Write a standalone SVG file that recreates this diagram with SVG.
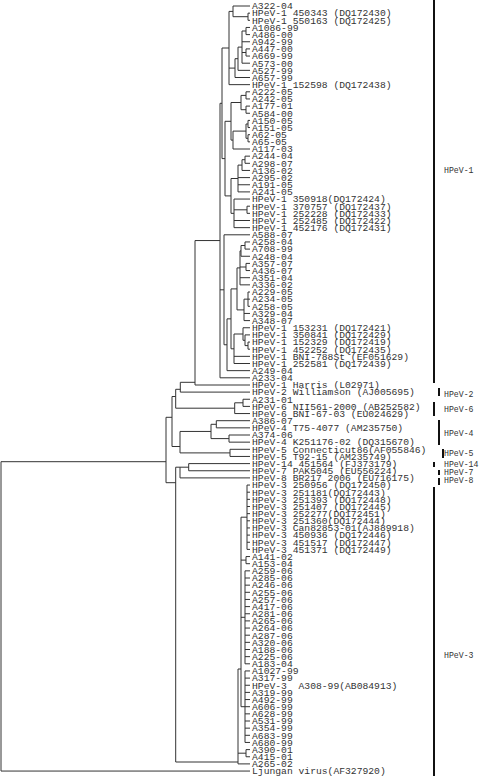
<svg xmlns="http://www.w3.org/2000/svg" width="480" height="780" viewBox="0 0 480 780">
<style>
.t{font-family:"Liberation Mono","DejaVu Sans Mono",monospace;font-size:9.7px;fill:#333;white-space:pre}
.c{font-family:"Liberation Mono","DejaVu Sans Mono",monospace;font-size:8.2px;fill:#333}
.e path{stroke:#333;stroke-width:1;fill:none}
.b{stroke:#111;stroke-width:2;fill:none}
</style>
<rect width="480" height="780" fill="#fff"/>
<g id="connectors" class="e">
<path d="M1 461.7V771.05M1 461.7H166M1 771.05H250"/>
<path d="M166 417.3V482.7M166 417.3H172M166 482.7H175.7"/>
<path d="M172 396.5V446.5M172 396.5H175.7M172 446.5H180"/>
<path d="M175.7 389.3V408.2M175.7 389.3H180.3M175.7 408.2H234.7"/>
<path d="M180.3 382.3V392.1M180.3 382.3H195M180.3 392.1H250"/>
<path d="M195 240.55V385M195 240.55H220M195 385H250"/>
<path d="M234.7 402.8V413.55M234.7 402.8H243M234.7 413.55H250"/>
<path d="M243 399.25V406.4M243 399.25H250M243 406.4H250"/>
<path d="M180 431.45V452.9M180 431.45H211M180 452.9H230"/>
<path d="M211 424.3V438.6M211 424.3H216.3M211 438.6H229"/>
<path d="M216.3 420.7V427.85M216.3 420.7H250M216.3 427.85H250"/>
<path d="M229 435V442.15M229 435H250M229 442.15H250"/>
<path d="M230 449.3V456.45M230 449.3H250M230 456.45H250"/>
<path d="M175.7 467.2V762M175.7 467.2H180M175.7 762H238"/>
<path d="M180 467.2V477.9M180 467.2H188.7M180 477.9H250"/>
<path d="M188.7 463.6V470.75M188.7 463.6H250M188.7 470.75H250"/>
<path d="M238 669V763.9M238 669H241M238 753.2H246M238 763.9H250"/>
<path d="M246 749.6V756.75M246 749.6H250M246 756.75H250"/>
<path d="M241 517.2V706.7M241 517.2H247M241 560.1H246M241 617.3H245M241 706.7H245"/>
<path d="M247 485.05V549.4M247 485.05H250M247 492.2H250M247 499.35H250M247 506.5H250M247 513.65H250M247 520.8H250M247 527.95H250M247 535.1H250M247 542.25H250M247 549.4H250"/>
<path d="M246 556.55V563.7M246 556.55H250M246 563.7H250"/>
<path d="M245 570.85V663.8M245 570.85H250M245 578H250M245 585.15H250M245 592.3H250M245 599.45H250M245 606.6H250M245 613.75H250M245 620.9H250M245 628.05H250M245 635.2H250M245 642.35H250M245 649.5H250M245 656.65H250M245 663.8H250"/>
<path d="M245 670.95V742.45M245 670.95H250M245 678.1H250M245 685.25H250M245 692.4H250M245 699.55H250M245 706.7H250M245 713.85H250M245 721H250M245 728.15H250M245 735.3H250M245 742.45H250"/>
<path d="M220 103.3V377.8M220 103.3H222M220 289.8H224M220 377.8H250"/>
<path d="M222 48V158.6M222 48H229M222 158.6H225"/>
<path d="M229 11.4V84.65M229 11.4H233M229 68.1H235M229 84.65H250"/>
<path d="M233 6V16.7M233 6H250M233 16.7H248"/>
<path d="M248 13.15V20.3M248 13.15H250M248 20.3H250"/>
<path d="M235 58.7V77.5M235 58.7H238M235 77.5H250"/>
<path d="M238 47.1V70.35M238 47.1H242M238 70.35H250"/>
<path d="M242 31V63.2M242 31H246M242 41.75H250M242 52.5H246M242 63.2H250"/>
<path d="M246 27.45V34.6M246 27.45H250M246 34.6H250"/>
<path d="M246 48.9V56.05M246 48.9H250M246 56.05H250"/>
<path d="M225 121.3V195.9M225 121.3H231M225 195.9H231"/>
<path d="M231 102.5V140.1M231 102.5H241M231 140.1H233"/>
<path d="M241 95.4V109.7M241 95.4H246M241 109.7H246"/>
<path d="M246 91.8V98.95M246 91.8H250M246 98.95H250"/>
<path d="M246 106.1V113.25M246 106.1H250M246 113.25H250"/>
<path d="M233 131.1V149M233 131.1H246M233 149H250"/>
<path d="M246 124V138.3M246 124H248M246 138.3H248"/>
<path d="M248 120.4V127.55M248 120.4H250M248 127.55H250"/>
<path d="M248 134.7V141.85M248 134.7H250M248 141.85H250"/>
<path d="M231 178.5V213.35M231 178.5H238M231 213.35H234"/>
<path d="M238 165.1V191.9M238 165.1H242M238 177.6H250M238 184.75H250M238 191.9H250"/>
<path d="M242 159.7V170.45M242 159.7H245M242 170.45H250"/>
<path d="M245 156.15V163.3M245 156.15H250M245 163.3H250"/>
<path d="M234 199.05V227.65M234 199.05H250M234 209.8H247M234 220.5H250M234 227.65H250"/>
<path d="M247 206.2V213.35M247 206.2H250M247 213.35H250"/>
<path d="M224 234.8V344.75M224 234.8H250M224 344.75H227"/>
<path d="M227 318.85V370.65M227 318.85H231M227 370.65H250"/>
<path d="M231 288.9V348.8M231 288.9H237M231 348.8H234"/>
<path d="M237 267.9V309.9M237 267.9H240M237 309.9H244"/>
<path d="M240 250.9V284.85M240 250.9H241M240 267H246M240 277.7H250M240 284.85H250"/>
<path d="M241 245.5V256.25M241 245.5H245M241 256.25H250"/>
<path d="M245 241.95V249.1M245 241.95H250M245 249.1H250"/>
<path d="M246 263.4V270.55M246 263.4H250M246 270.55H250"/>
<path d="M244 299.15V320.6M244 299.15H248M244 313.45H250M244 320.6H250"/>
<path d="M248 292V306.3M248 292H250M248 299.15H250M248 306.3H250"/>
<path d="M234 334V363.5M234 334H243M234 356.35H250M234 363.5H250"/>
<path d="M243 327.75V340.3M243 327.75H250M243 340.3H245"/>
<path d="M245 334.9V345.6M245 334.9H250M245 345.6H248"/>
<path d="M248 342.05V349.2M248 342.05H250M248 349.2H250"/>
</g>
<g id="clades">
<g id="clade-HPeV-1"><path class="b" d="M434 0V383"/><text class="c" x="444" y="173">HPeV-1</text></g>
<g id="clade-HPeV-2"><path class="b" d="M439 388V396"/><text class="c" x="444" y="397">HPeV-2</text></g>
<g id="clade-HPeV-6"><path class="b" d="M434 402V416"/><text class="c" x="444" y="412">HPeV-6</text></g>
<g id="clade-HPeV-4"><path class="b" d="M439 420V445"/><text class="c" x="444" y="436">HPeV-4</text></g>
<g id="clade-HPeV-5"><path class="b" d="M443 449V458"/><text class="c" x="444" y="456">HPeV-5</text></g>
<g id="clade-HPeV-14"><path class="b" d="M434 462V467"/><text class="c" x="444" y="467">HPeV-14</text></g>
<g id="clade-HPeV-7"><path class="b" d="M439 470V475"/><text class="c" x="444" y="475">HPeV-7</text></g>
<g id="clade-HPeV-8"><path class="b" d="M439 478V485"/><text class="c" x="444" y="483">HPeV-8</text></g>
<g id="clade-HPeV-3"><path class="b" d="M434 487V776"/><text class="c" x="444" y="658">HPeV-3</text></g>
</g>
<g id="leaves">
<g id="n1"><text class="t" x="252" y="9.3">A322-04</text></g>
<g id="n2"><text class="t" x="252" y="16.45">HPeV-1 450343 (DQ172430)</text></g>
<g id="n3"><text class="t" x="252" y="23.6">HPeV-1 550163 (DQ172425)</text></g>
<g id="n4"><text class="t" x="252" y="30.75">A1086-99</text></g>
<g id="n5"><text class="t" x="252" y="37.9">A486-00</text></g>
<g id="n6"><text class="t" x="252" y="45.05">A942-99</text></g>
<g id="n7"><text class="t" x="252" y="52.2">A447-00</text></g>
<g id="n8"><text class="t" x="252" y="59.35">A669-99</text></g>
<g id="n9"><text class="t" x="252" y="66.5">A573-00</text></g>
<g id="n10"><text class="t" x="252" y="73.65">A527-99</text></g>
<g id="n11"><text class="t" x="252" y="80.8">A657-99</text></g>
<g id="n12"><text class="t" x="252" y="87.95">HPeV-1 152598 (DQ172438)</text></g>
<g id="n13"><text class="t" x="252" y="95.1">A222-05</text></g>
<g id="n14"><text class="t" x="252" y="102.25">A242-05</text></g>
<g id="n15"><text class="t" x="252" y="109.4">A177-01</text></g>
<g id="n16"><text class="t" x="252" y="116.55">A584-00</text></g>
<g id="n17"><text class="t" x="252" y="123.7">A150-05</text></g>
<g id="n18"><text class="t" x="252" y="130.85">A151-05</text></g>
<g id="n19"><text class="t" x="252" y="138">A62-05</text></g>
<g id="n20"><text class="t" x="252" y="145.15">A65-05</text></g>
<g id="n21"><text class="t" x="252" y="152.3">A117-03</text></g>
<g id="n22"><text class="t" x="252" y="159.45">A244-04</text></g>
<g id="n23"><text class="t" x="252" y="166.6">A298-07</text></g>
<g id="n24"><text class="t" x="252" y="173.75">A136-02</text></g>
<g id="n25"><text class="t" x="252" y="180.9">A295-02</text></g>
<g id="n26"><text class="t" x="252" y="188.05">A191-05</text></g>
<g id="n27"><text class="t" x="252" y="195.2">A241-05</text></g>
<g id="n28"><text class="t" x="252" y="202.35">HPeV-1 350918(DQ172424)</text></g>
<g id="n29"><text class="t" x="252" y="209.5">HPeV-1 370757 (DQ172437)</text></g>
<g id="n30"><text class="t" x="252" y="216.65">HPeV-1 252228 (DQ172433)</text></g>
<g id="n31"><text class="t" x="252" y="223.8">HPeV-1 252485 (DQ172422)</text></g>
<g id="n32"><text class="t" x="252" y="230.95">HPeV-1 452176 (DQ172431)</text></g>
<g id="n33"><text class="t" x="252" y="238.1">A588-07</text></g>
<g id="n34"><text class="t" x="252" y="245.25">A258-04</text></g>
<g id="n35"><text class="t" x="252" y="252.4">A708-99</text></g>
<g id="n36"><text class="t" x="252" y="259.55">A248-04</text></g>
<g id="n37"><text class="t" x="252" y="266.7">A357-07</text></g>
<g id="n38"><text class="t" x="252" y="273.85">A436-07</text></g>
<g id="n39"><text class="t" x="252" y="281">A351-04</text></g>
<g id="n40"><text class="t" x="252" y="288.15">A336-02</text></g>
<g id="n41"><text class="t" x="252" y="295.3">A229-05</text></g>
<g id="n42"><text class="t" x="252" y="302.45">A234-05</text></g>
<g id="n43"><text class="t" x="252" y="309.6">A258-05</text></g>
<g id="n44"><text class="t" x="252" y="316.75">A329-04</text></g>
<g id="n45"><text class="t" x="252" y="323.9">A348-07</text></g>
<g id="n46"><text class="t" x="252" y="331.05">HPeV-1 153231 (DQ172421)</text></g>
<g id="n47"><text class="t" x="252" y="338.2">HPeV-1 350841 (DQ172429)</text></g>
<g id="n48"><text class="t" x="252" y="345.35">HPeV-1 152329 (DQ172419)</text></g>
<g id="n49"><text class="t" x="252" y="352.5">HPeV-1 452252 (DQ172435)</text></g>
<g id="n50"><text class="t" x="252" y="359.65">HPeV-1 BNI-788St (EF051629)</text></g>
<g id="n51"><text class="t" x="252" y="366.8">HPeV-1 252581 (DQ172439)</text></g>
<g id="n52"><text class="t" x="252" y="373.95">A249-04</text></g>
<g id="n53"><text class="t" x="252" y="381.1">A233-04</text></g>
<g id="n54"><text class="t" x="252" y="388.25">HPeV-1 Harris (L02971)</text></g>
<g id="n55"><text class="t" x="252" y="395.4">HPeV-2 Williamson (AJ005695)</text></g>
<g id="n56"><text class="t" x="252" y="402.55">A231-01</text></g>
<g id="n57"><text class="t" x="252" y="409.7">HPeV-6 NII561-2000 (AB252582)</text></g>
<g id="n58"><text class="t" x="252" y="416.85">HPeV-6 BNI-67-03 (EU024629)</text></g>
<g id="n59"><text class="t" x="252" y="424">A386-07</text></g>
<g id="n60"><text class="t" x="252" y="431.15">HPeV-4 T75-4077 (AM235750)</text></g>
<g id="n61"><text class="t" x="252" y="438.3">A374-06</text></g>
<g id="n62"><text class="t" x="252" y="445.45">HPeV-4 K251176-02 (DQ315670)</text></g>
<g id="n63"><text class="t" x="252" y="452.6">HPeV-5 Connecticut86(AF055846)</text></g>
<g id="n64"><text class="t" x="252" y="459.75">HPeV-5 T92-15 (AM235749)</text></g>
<g id="n65"><text class="t" x="252" y="466.9">HPeV-14 451564 (FJ373179)</text></g>
<g id="n66"><text class="t" x="252" y="474.05">HPeV-7 PAK5045 (EU556224)</text></g>
<g id="n67"><text class="t" x="252" y="481.2">HPeV-8 BR217 2006 (EU716175)</text></g>
<g id="n68"><text class="t" x="252" y="488.35">HPeV-3 250956 (DQ172450)</text></g>
<g id="n69"><text class="t" x="252" y="495.5">HPeV-3 251181(DQ172443)</text></g>
<g id="n70"><text class="t" x="252" y="502.65">HPeV-3 251393 (DQ172448)</text></g>
<g id="n71"><text class="t" x="252" y="509.8">HPeV-3 251407 (DQ172445)</text></g>
<g id="n72"><text class="t" x="252" y="516.95">HPeV-3 252277(DQ172451)</text></g>
<g id="n73"><text class="t" x="252" y="524.1">HPeV-3 251360(DQ172444)</text></g>
<g id="n74"><text class="t" x="252" y="531.25">HPeV-3 Can82853-01(AJ889918)</text></g>
<g id="n75"><text class="t" x="252" y="538.4">HPeV-3 450936 (DQ172446)</text></g>
<g id="n76"><text class="t" x="252" y="545.55">HPeV-3 451517 (DQ172447)</text></g>
<g id="n77"><text class="t" x="252" y="552.7">HPeV-3 451371 (DQ172449)</text></g>
<g id="n78"><text class="t" x="252" y="559.85">A141-02</text></g>
<g id="n79"><text class="t" x="252" y="567">A153-04</text></g>
<g id="n80"><text class="t" x="252" y="574.15">A259-06</text></g>
<g id="n81"><text class="t" x="252" y="581.3">A285-06</text></g>
<g id="n82"><text class="t" x="252" y="588.45">A246-06</text></g>
<g id="n83"><text class="t" x="252" y="595.6">A255-06</text></g>
<g id="n84"><text class="t" x="252" y="602.75">A257-06</text></g>
<g id="n85"><text class="t" x="252" y="609.9">A417-06</text></g>
<g id="n86"><text class="t" x="252" y="617.05">A281-06</text></g>
<g id="n87"><text class="t" x="252" y="624.2">A265-06</text></g>
<g id="n88"><text class="t" x="252" y="631.35">A264-06</text></g>
<g id="n89"><text class="t" x="252" y="638.5">A287-06</text></g>
<g id="n90"><text class="t" x="252" y="645.65">A320-06</text></g>
<g id="n91"><text class="t" x="252" y="652.8">A188-06</text></g>
<g id="n92"><text class="t" x="252" y="659.95">A225-06</text></g>
<g id="n93"><text class="t" x="252" y="667.1">A183-04</text></g>
<g id="n94"><text class="t" x="252" y="674.25">A1027-99</text></g>
<g id="n95"><text class="t" x="252" y="681.4">A317-99</text></g>
<g id="n96"><text class="t" x="252" y="688.55">HPeV-3  A308-99(AB084913)</text></g>
<g id="n97"><text class="t" x="252" y="695.7">A319-99</text></g>
<g id="n98"><text class="t" x="252" y="702.85">A492-99</text></g>
<g id="n99"><text class="t" x="252" y="710">A606-99</text></g>
<g id="n100"><text class="t" x="252" y="717.15">A628-99</text></g>
<g id="n101"><text class="t" x="252" y="724.3">A531-99</text></g>
<g id="n102"><text class="t" x="252" y="731.45">A354-99</text></g>
<g id="n103"><text class="t" x="252" y="738.6">A683-99</text></g>
<g id="n104"><text class="t" x="252" y="745.75">A680-99</text></g>
<g id="n105"><text class="t" x="252" y="752.9">A390-01</text></g>
<g id="n106"><text class="t" x="252" y="760.05">A415-01</text></g>
<g id="n107"><text class="t" x="252" y="767.2">A265-02</text></g>
<g id="n108"><text class="t" x="252" y="774.35">Ljungan virus(AF327920)</text></g>
</g>
</svg>
